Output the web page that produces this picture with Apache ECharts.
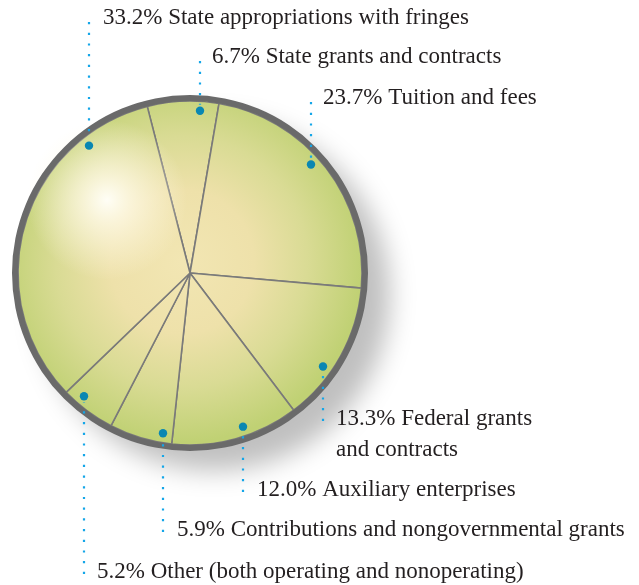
<!DOCTYPE html>
<html>
<head>
<meta charset="utf-8">
<script src="https://cdn.jsdelivr.net/npm/echarts@6/dist/echarts.min.js"></script>
<style>
html,body{margin:0;padding:0;background:#fff;}
#chart{width:639px;height:585px;}
</style>
</head>
<body>
<div id="chart"></div>
<script>
// ---- data (clockwise from the top) ----
const categories = [
  'State grants and contracts',
  'Tuition and fees',
  'Federal grants\nand contracts',
  'Auxiliary enterprises',
  'Contributions and nongovernmental grants',
  'Other (both operating and nonoperating)',
  'State appropriations with fringes'
];
const values = [6.7, 23.7, 13.3, 12.0, 5.9, 5.2, 33.2];

// ---- layout (positions/styles only) ----
const CX = 190, CY = 273, R = 172, RING = 6;
// leader x, label x, label y (center of first line)
const leaderX = [200, 311, 323, 243, 163, 84, 89];
const labelX  = [212, 323, 336, 257, 177, 97, 103];
const labelY  = [57, 98, 419, 490, 530, 572, 18];
const DOT_R = 0.945 * R;
const LINE_H = 31;

function dotPos(i) {
  const dx = leaderX[i] - CX;
  const dy = Math.sqrt(DOT_R * DOT_R - dx * dx);
  const below = labelY[i] > CY;
  return [leaderX[i], below ? CY + dy : CY - dy];
}

const chart = echarts.init(document.getElementById('chart'), null, {renderer: 'canvas'});
const FONT = 'Liberation Serif';

const fill = {
  type: 'radial', x: 182, y: 262, r: 180, global: true,
  colorStops: [
    {offset: 0, color: '#f2e6b3'},
    {offset: 0.4, color: '#eee1aa'},
    {offset: 0.7, color: '#d9db94'},
    {offset: 1, color: '#c0d174'}
  ]
};

const graphics = [
  // drop shadow under the disc
  {type: 'circle', shape: {cx: CX, cy: CY, r: R + RING - 2}, z: 0, silent: true,
   style: {fill: '#ffffff', shadowBlur: 26, shadowOffsetX: 24, shadowOffsetY: 22, shadowColor: 'rgba(0,0,0,0.25)'}},
  // soft highlight
  {type: 'circle', shape: {cx: 107, cy: 200, r: 80}, z: 3, silent: true,
   style: {fill: {type: 'radial', x: 0.5, y: 0.5, r: 0.5, colorStops: [
     {offset: 0, color: 'rgba(255,254,246,1)'},
     {offset: 0.3, color: 'rgba(255,250,232,0.75)'},
     {offset: 1, color: 'rgba(255,248,225,0)'}
   ]}}},
  // rim
  {type: 'ring', shape: {cx: CX, cy: CY, r: R + RING, r0: R}, z: 4, silent: true,
   style: {fill: '#6a6a6a'}}
];
values.forEach((v, i) => {
  const p = dotPos(i);
  const below = labelY[i] > CY;
  const endY = labelY[i] + (below ? 2 : 4);
  graphics.push({type: 'line', z: 5, silent: true,
    shape: {x1: p[0], y1: endY, x2: p[0], y2: p[1] + (below ? 6 : -6)},
    style: {stroke: '#14a6e8', lineWidth: 2.2, lineDash: [2.2, 8.5]}});
  graphics.push({type: 'circle', shape: {cx: p[0], cy: p[1], r: 4.2}, z: 6, silent: true,
    style: {fill: '#0a87b2'}});
});

chart.setOption({
  animation: false,
  backgroundColor: '#ffffff',
  graphic: graphics,
  series: [{
    type: 'pie',
    center: [CX, CY],
    radius: [0, R],
    startAngle: 104.4,
    clockwise: true,
    silent: true,
    z: 2,
    avoidLabelOverlap: false,
    itemStyle: {color: fill, borderColor: '#7a7a7a', borderWidth: 1.6},
    data: categories.map((c, i) => ({name: c, value: values[i]})),
    label: {
      show: true,
      overflow: 'none',
      formatter: p => values[p.dataIndex].toFixed(1) + '% ' + categories[p.dataIndex],
      fontFamily: FONT,
      fontSize: 23,
      lineHeight: LINE_H,
      color: '#231f20'
    },
    labelLine: {show: false},
    labelLayout: function (params) {
      const i = params.dataIndex;
      const lines = categories[i].split('\n').length;
      const cy = labelY[i] + (lines - 1) * LINE_H / 2;
      return {
        x: labelX[i],
        y: cy,
        align: 'left',
        verticalAlign: 'middle',
        hideOverlap: false
      };
    }
  }]
});
</script>
</body>
</html>
